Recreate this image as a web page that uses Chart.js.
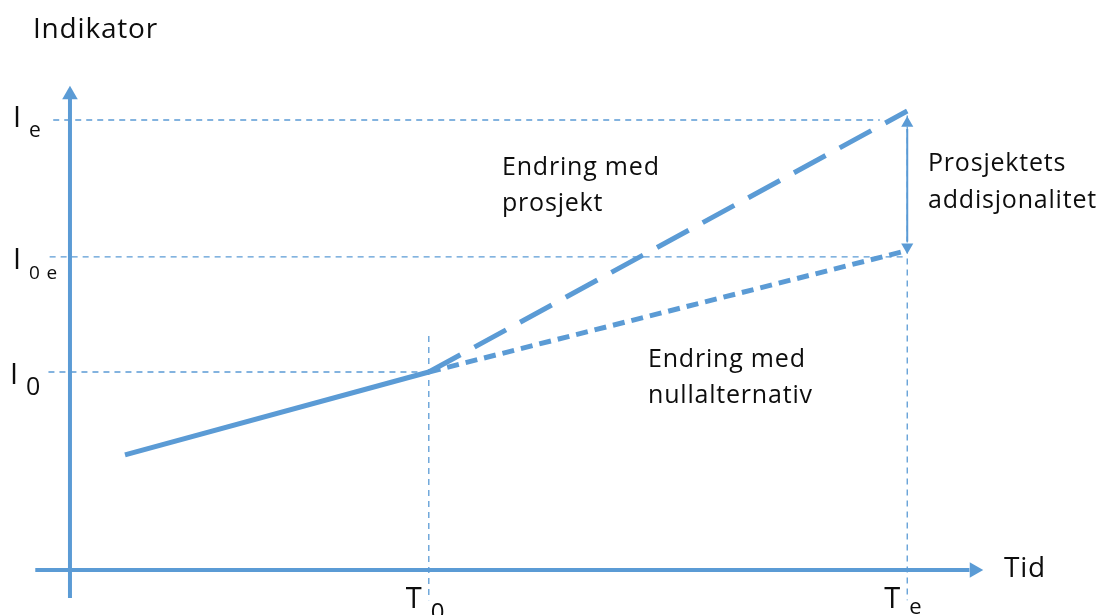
<!DOCTYPE html>
<html>
<head>
<meta charset="utf-8">
<script src="https://cdn.jsdelivr.net/npm/chart.js@4"></script>
<style>
  body { margin: 0; background: #fff; }
  #wrap { width: 1104px; height: 615px; position: relative; }
</style>
</head>
<body>
<div id="wrap"><canvas id="myChart"></canvas></div>
<script>
// time points and indicator levels (conceptual units)
var timeVals = [3, 7];
var timeSubs = ['0', 'e'];
var indVals = [10, 6.96, 4.4];
var indSubs = ['e', '0 e', '0'];

// indicator before T0, with project, with null alternative
var beforeT = [0.46, 3];
var beforeI = [2.56, 4.4];
var projT = [3, 7];
var projI = [4.4, 10.2];
var nullT = [3, 7];
var nullI = [4.4, 7.1];

var blue = '#5B9BD5';
var font = '"Open Sans", "Noto Sans", sans-serif';

function pts(xs, ys) {
  return xs.map(function (x, i) { return { x: x, y: ys[i] }; });
}

function guide(data) {
  return {
    data: data, showLine: true, borderColor: blue, borderWidth: 1.3,
    borderDash: [6, 5], pointRadius: 0, fill: false
  };
}

var datasets = [];

// axes
datasets.push({ data: [{ x: 0, y: -0.62 }, { x: 0, y: 10.5 }], showLine: true,
  borderColor: blue, borderWidth: 4, pointRadius: 0 });
datasets.push({ data: [{ x: -0.29, y: 0 }, { x: 7.52, y: 0 }], showLine: true,
  borderColor: blue, borderWidth: 4, pointRadius: 0 });

// horizontal guides from the indicator axis
datasets.push(guide([{ x: -0.14, y: indVals[0] }, { x: 6.77, y: indVals[0] }]));
datasets.push(guide([{ x: -0.17, y: indVals[1] }, { x: nullT[1], y: indVals[1] }]));
datasets.push(guide([{ x: -0.18, y: indVals[2] }, { x: timeVals[0], y: indVals[2] }]));
// vertical guides from the time axis
datasets.push(guide([{ x: timeVals[0], y: 5.2 }, { x: timeVals[0], y: -0.67 }]));
datasets.push(guide([{ x: timeVals[1], y: 10.1 }, { x: timeVals[1], y: -0.67 }]));

// series
datasets.push({ data: pts(beforeT, beforeI), showLine: true, borderColor: blue,
  borderWidth: 5, pointRadius: 0 });
datasets.push({ data: pts(projT, projI), showLine: true, borderColor: blue,
  borderWidth: 5, borderDash: [36, 16], pointRadius: 0 });
datasets.push({ data: pts(nullT, nullI), showLine: true, borderColor: blue,
  borderWidth: 5, borderDash: [12, 7], pointRadius: 0 });

// additionality double arrow
datasets.push({ data: [{ x: timeVals[1], y: 9.8 }, { x: timeVals[1], y: 7.3 }], showLine: true,
  borderColor: blue, borderWidth: 2, pointRadius: 0 });

// arrow heads
datasets.push({
  data: [{ x: 0, y: 10.56 }, { x: 7.56, y: 0 }, { x: timeVals[1], y: 9.93 }, { x: timeVals[1], y: 7.18 }],
  showLine: false,
  pointStyle: 'triangle',
  pointRadius: [9, 9, 7, 7],
  pointRotation: [0, 90, 0, 180],
  pointBackgroundColor: blue,
  pointBorderWidth: 0
});

var textPlugin = {
  id: 'texts',
  afterDraw: function (chart) {
    var c = chart.ctx;
    var xs = chart.scales.x, ys = chart.scales.y;
    c.save();
    c.fillStyle = '#0d0d0d';
    c.textBaseline = 'alphabetic';
    c.textAlign = 'left';
    c.letterSpacing = '0.8px';

    function txt(s, x, y, size) {
      c.font = size + 'px ' + font;
      c.fillText(s, x, y);
    }

    txt('Indikator', 33, 38, 28);
    txt('Tid', 1004, 577, 28);

    // indicator tick labels
    var iOff = [7, 12, 12], sOff = [17, 22, 23], sSize = [21, 19, 25], lx = [13, 13, 10];
    indVals.forEach(function (v, i) {
      var py = ys.getPixelForValue(v);
      txt('I', lx[i], py + iOff[i], 29);
      txt(indSubs[i], lx[i] + 16, py + sOff[i], sSize[i]);
    });
    // time tick labels
    var tSize = [24, 22], tOff = [50, 44];
    timeVals.forEach(function (v, i) {
      var px = xs.getPixelForValue(v);
      var base = ys.getPixelForValue(0);
      txt('T', px - 23, base + 38, 29);
      txt(timeSubs[i], px + 2, base + tOff[i], tSize[i]);
    });

    txt('Endring med', 502, 175, 25);
    txt('prosjekt', 502, 211, 25);
    txt('Endring med', 648, 367, 25);
    txt('nullalternativ', 648, 403, 25);
    txt('Prosjektets', 928, 171, 25);
    txt('addisjonalitet', 928, 208, 25);
    c.restore();
  }
};

var ctx = document.getElementById('myChart').getContext('2d');
var myChart = new Chart(ctx, {
  type: 'scatter',
  data: { datasets: datasets },
  options: {
    responsive: true,
    maintainAspectRatio: false,
    animation: false,
    layout: { padding: 0, autoPadding: false },
    plugins: { legend: { display: false }, tooltip: { enabled: false } },
    elements: { line: { tension: 0, borderCapStyle: 'butt' } },
    scales: {
      x: { type: 'linear', display: false, min: -0.585, max: 8.645 },
      y: { type: 'linear', display: false, min: -1, max: 12.667 }
    }
  },
  plugins: [textPlugin]
});
</script>
</body>
</html>
